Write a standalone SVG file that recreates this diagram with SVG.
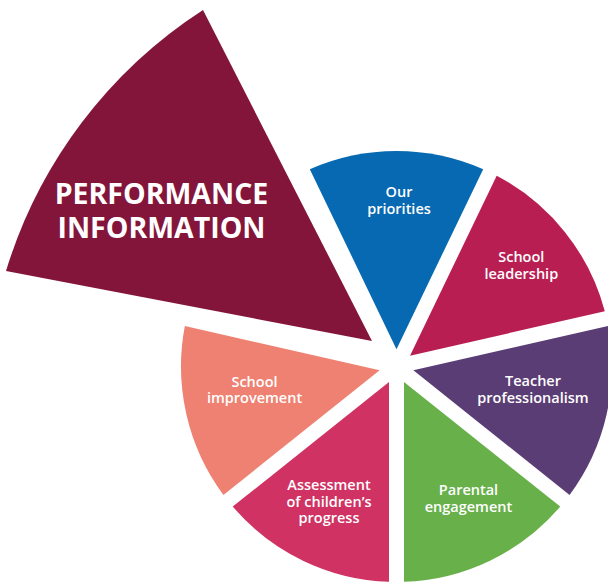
<svg xmlns="http://www.w3.org/2000/svg" width="608" height="584" viewBox="0 0 608 584">
<style>
.lbl{font-family:"Open Sans","Noto Sans","DejaVu Sans",sans-serif;font-size:14.5px;font-weight:600;fill:#ffffff;text-anchor:middle}
.ttl{font-family:"Open Sans","Noto Sans","DejaVu Sans",sans-serif;font-size:28.5px;font-weight:700;fill:#ffffff;text-anchor:middle}
</style>
<rect x="0" y="0" width="608" height="584" fill="#ffffff"/>
<g id="connectors"/>
<g id="performance-information">
<path d="M372 341 L6 271 A476 476 0 0 1 203 10 Z" fill="#84153A"/>
<text class="ttl" x="161.5" y="204">PERFORMANCE</text>
<text class="ttl" x="161.5" y="238.3">INFORMATION</text>
</g>
<g id="our-priorities">
<path d="M396.5 349.21 L309.81 169.21 A215.5 215.5 0 0 1 483.19 169.21 Z" fill="#0769B1"/>
<text class="lbl" x="399" y="197.3">Our</text>
<text class="lbl" x="399" y="214">priorities</text>
</g>
<g id="school-leadership">
<path d="M410.01 355.72 L496.69 175.71 A215.5 215.5 0 0 1 604.8 311.27 Z" fill="#B91E52"/>
<text class="lbl" x="521.3" y="262.3">School</text>
<text class="lbl" x="521.3" y="278.5">leadership</text>
</g>
<g id="teacher-professionalism">
<path d="M413.35 370.35 L608.14 325.89 A215.5 215.5 0 0 1 569.55 494.93 Z" fill="#5B3D75"/>
<text class="lbl" x="533" y="386">Teacher</text>
<text class="lbl" x="533" y="403.3">professionalism</text>
</g>
<g id="parental-engagement">
<path d="M404 382.07 L560.23 506.62 A215.5 215.5 0 0 1 404 581.87 Z" fill="#68B04A"/>
<text class="lbl" x="468.5" y="495">Parental</text>
<text class="lbl" x="468.5" y="511.7">engagement</text>
</g>
<g id="assessment">
<path d="M389 382.07 L389 581.87 A215.5 215.5 0 0 1 232.77 506.62 Z" fill="#CF3263"/>
<text class="lbl" x="329" y="490">Assessment</text>
<text class="lbl" x="329" y="506.7">of children’s</text>
<text class="lbl" x="329" y="523.3">progress</text>
</g>
<g id="school-improvement">
<path d="M379.65 370.35 L223.45 494.93 A215.5 215.5 0 0 1 184.86 325.89 Z" fill="#EE8171"/>
<text class="lbl" x="254.5" y="386.7">School</text>
<text class="lbl" x="254.5" y="403.3">improvement</text>
</g>
</svg>
